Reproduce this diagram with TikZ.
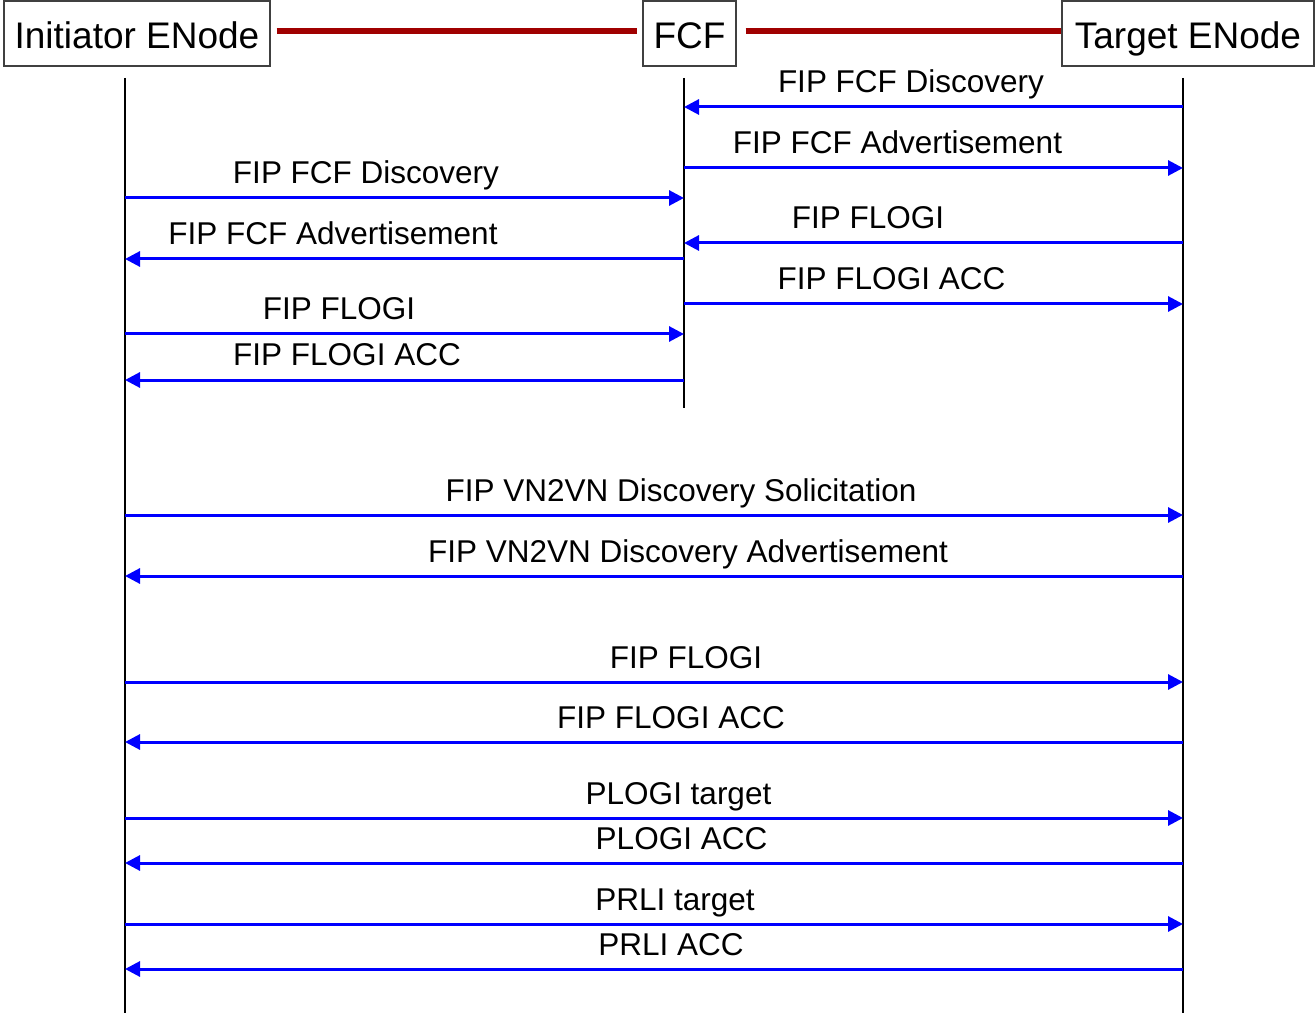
\documentclass[tikz,border=0pt]{standalone}
\usepackage{fontspec}
\setmainfont{Liberation Sans}
\usetikzlibrary{arrows.meta}
\definecolor{linkred}{HTML}{A00000}
\definecolor{msgblue}{HTML}{0000FF}
\begin{document}
\begin{tikzpicture}[x=1pt,y=-1pt,
  actor/.style={draw=black!75, line width=1.2pt, fill=white, minimum height=65pt, inner sep=0pt, text height=31pt, text depth=0pt, font=\fontsize{37}{40}\selectfont},
  link/.style={draw=linkred, line width=5.5pt},
  life/.style={draw=black, line width=2.6pt},
  msg/.style={draw=msgblue, line width=3pt, -{Triangle[length=15pt,width=15pt]}},
  lbl/.style={anchor=base, inner sep=0pt, font=\fontsize{31.5}{34}\selectfont}]
\useasboundingbox (0,0) rectangle (1315,1016);
% actors
\node[actor, minimum width=266pt] (init) at (137,33.5) {Initiator ENode};
\node[actor, minimum width=93pt] (fcf) at (689.5,33.5) {FCF};
\node[actor, minimum width=252pt] (tgt) at (1188,33.5) {Target ENode};
% links
\draw[link, shorten <=6pt, shorten >=5pt] ([yshift=2.5pt]init.east) -- ([yshift=2.5pt]fcf.west);
\draw[link, shorten <=9pt] ([yshift=2.5pt]fcf.east) -- ([yshift=2.5pt]tgt.west);
% lifelines
\coordinate (I) at (125,78);
\coordinate (Ib) at (125,1013);
\coordinate (F) at (684,78);
\coordinate (Fb) at (684,408);
\coordinate (T) at (1183,78);
\coordinate (Tb) at (1183,1013);
\draw[life] (I) -- (Ib);
\draw[life] (F) -- (Fb);
\draw[life] (T) -- (Tb);
% FCF phase: target side
\draw[msg] (T |- 0,107) -- (F |- 0,107) node[lbl] at (911,93) {FIP FCF Discovery};
\draw[msg] (F |- 0,168) -- (T |- 0,168) node[lbl] at (897.5,154) {FIP FCF Advertisement};
\draw[msg] (T |- 0,243) -- (F |- 0,243) node[lbl] at (868,229) {FIP FLOGI};
\draw[msg] (F |- 0,304) -- (T |- 0,304) node[lbl] at (891.5,290) {FIP FLOGI ACC};
% FCF phase: initiator side
\draw[msg] (I |- 0,198) -- (F |- 0,198) node[lbl] at (366,184) {FIP FCF Discovery};
\draw[msg] (F |- 0,259) -- (I |- 0,259) node[lbl] at (333,245) {FIP FCF Advertisement};
\draw[msg] (I |- 0,334) -- (F |- 0,334) node[lbl] at (339,320) {FIP FLOGI};
\draw[msg] (F |- 0,380) -- (I |- 0,380) node[lbl] at (347,366) {FIP FLOGI ACC};
% VN2VN phase
\draw[msg] (I |- 0,515) -- (T |- 0,515) node[lbl] at (681,501) {FIP VN2VN Discovery Solicitation};
\draw[msg] (T |- 0,576) -- (I |- 0,576) node[lbl] at (688,562) {FIP VN2VN Discovery Advertisement};
\draw[msg] (I |- 0,682) -- (T |- 0,682) node[lbl] at (686,668) {FIP FLOGI};
\draw[msg] (T |- 0,742) -- (I |- 0,742) node[lbl] at (671,728) {FIP FLOGI ACC};
\draw[msg] (I |- 0,818) -- (T |- 0,818) node[lbl] at (678.5,804) {PLOGI target};
\draw[msg] (T |- 0,863) -- (I |- 0,863) node[lbl] at (681.5,849) {PLOGI ACC};
\draw[msg] (I |- 0,924) -- (T |- 0,924) node[lbl] at (675,910) {PRLI target};
\draw[msg] (T |- 0,969) -- (I |- 0,969) node[lbl] at (671,955) {PRLI ACC};
\end{tikzpicture}
\end{document}
